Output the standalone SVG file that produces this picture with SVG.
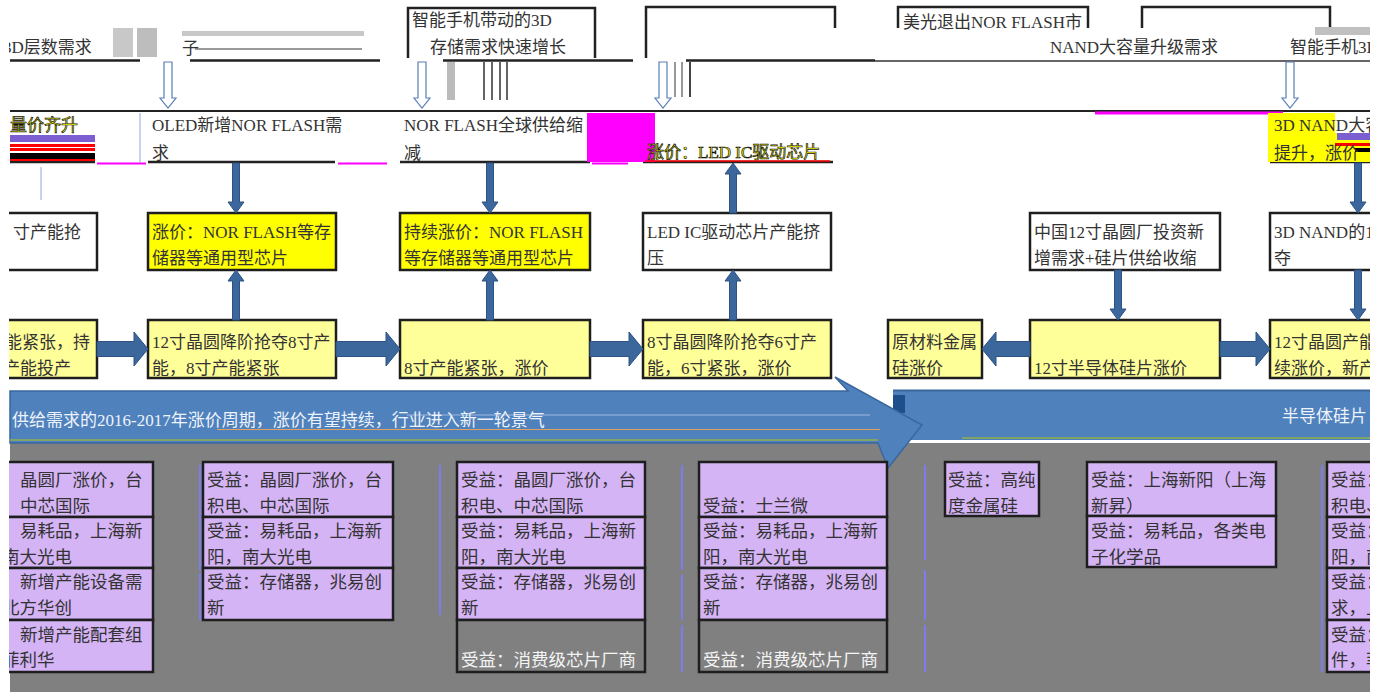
<svg xmlns="http://www.w3.org/2000/svg" width="1386" height="692" viewBox="0 0 1386 692">
<style>
text{font-family:"Liberation Serif","Noto Sans CJK SC",serif;font-size:17px;fill:#333}
.b{font-size:17.5px}
.bx{stroke:#1e1e1e;stroke-width:2.5}
.w{fill:#fff}.y{fill:#ffff00}.ly{fill:#ffff99}.pu{fill:#d5b4f6}.gr{fill:#808080}
.ar{fill:#3b679c;stroke:#2d5283;stroke-width:1}
.ha{fill:#fff;stroke:#5a7fb5;stroke-width:1.2}
.ln{stroke:#222;stroke-width:2.5;fill:none}
.bl{stroke:#7c7cf0;stroke-width:2;fill:none}
.wt{fill:#f4f4f4}
.yt{fill:#ffff00;stroke:#111;stroke-width:0.7}
.bt{fill:#eef3fb}
</style>
<rect width="1386" height="692" fill="#fff"/>

<g id="background">
<rect x="10" y="443" width="1360" height="249" fill="#808080"/>
<rect x="893" y="390" width="477" height="50" fill="#4f81bd"/>
<line x1="893" y1="390.5" x2="1370" y2="390.5" stroke="#3a679e" stroke-width="2"/>
<rect x="893" y="395" width="12" height="18" fill="#1f4e8c"/>
<polygon points="10,391 848,391 835,377 922,425 888,468 878,443 10,443" fill="#4f81bd" stroke="#3a679e" stroke-width="1.5"/>
<line x1="407" y1="415" x2="870" y2="415" stroke="#9fb8dd" stroke-width="1"/>
<line x1="217" y1="429.5" x2="880" y2="429.5" stroke="#e0a060" stroke-width="1"/>
<line x1="10" y1="440" x2="878" y2="440" stroke="#8fb04a" stroke-width="1.5"/>
<line x1="962" y1="438" x2="1370" y2="438" stroke="#8fb04a" stroke-width="1.5"/>
<text x="12" y="426" class="bt">供给需求的2016-2017年涨价周期，涨价有望持续，行业进入新一轮景气</text>
<text x="1282" y="422" class="bt">半导体硅片</text>
</g>

<g id="top1">
<rect x="113" y="28" width="20" height="29" fill="#c8c8c8"/>
<rect x="137" y="28" width="20" height="29" fill="#bdbdbd"/>
<rect x="182" y="31" width="182" height="5" fill="#c8c8c8"/>
<line x1="195" y1="49" x2="362" y2="49" stroke="#999" stroke-width="2"/>
<text x="3" y="53">3D层数需求</text>
<text x="182" y="54">子</text>
<path class="ln" d="M10,60.5H140M190,60.5H380"/>
</g>
<g id="top2">
<path class="ln" d="M408,58V8H595V58"/>
<text x="412" y="26">智能手机带动的3D</text>
<text x="430" y="53">存储需求快速增长</text>
<path class="ln" d="M443,60.5H633"/>
<rect x="447" y="62" width="8" height="38" fill="#bbb"/>
<path d="M484,62V100M492,62V100M500,62V100M507,62V100" stroke="#333" stroke-width="1.5"/>
</g>
<g id="top3">
<path class="ln" d="M646,58V7H835V28"/>
<path class="ln" d="M686,60.5H875"/>
<path d="M675,62V97M682,62V97" stroke="#777" stroke-width="1.5"/>
<path d="M690,62V97" stroke="#444" stroke-width="2"/>
</g>
<g id="top4">
<path class="ln" d="M898,28V7H1088V28"/>
<text x="903" y="28">美光退出NOR FLASH市</text>
</g>
<g id="top5">
<path class="ln" d="M1142,28V7H1330V28"/>
<text x="1050" y="53">NAND大容量升级需求</text>
<rect x="1315" y="27" width="55" height="8" fill="#c0c0c0"/>
<text x="1290" y="53">智能手机3D</text>
<line x1="875" y1="61" x2="1370" y2="61" stroke="#666" stroke-width="2"/>
</g>

<g id="row2">
<line x1="10" y1="111" x2="1370" y2="111" stroke="#222" stroke-width="2"/>
<line x1="1095" y1="113" x2="1283" y2="113" stroke="#ff00ff" stroke-width="3"/>
<path class="ln" d="M10,162H95M148,162H335M400,162H590M643,162H833M1270,162H1370"/>
<path d="M97,163.5H146M338,163.5H387M592,163.5H628" stroke="#ff00ff" stroke-width="2"/>
<line x1="140" y1="113" x2="140" y2="163" stroke="#8fa6e0" stroke-width="1"/>
<line x1="41" y1="167" x2="41" y2="200" stroke="#8fa6e0" stroke-width="1"/>
</g>
<g id="n2a">
<text x="10" y="131" class="yt">量价齐升</text>
<rect x="10" y="135" width="85" height="7" fill="#7b5fd1"/>
<rect x="10" y="144" width="85" height="3" fill="#ff0000"/>
<rect x="10" y="148" width="85" height="3" fill="#ff0000"/>
<rect x="10" y="153" width="85" height="6" fill="#000"/>
<rect x="10" y="159" width="85" height="2" fill="#ff0000"/>
</g>
<g id="n2b">
<text x="152" y="131">OLED新增NOR FLASH需</text>
<text x="152" y="159">求</text>
</g>
<g id="n2c">
<text x="404" y="131">NOR FLASH全球供给缩</text>
<text x="404" y="159">减</text>
<rect x="587" y="113" width="68" height="49" fill="#ff00ff"/>
</g>
<g id="n2d">
<text x="647" y="158" class="yt">涨价：LED IC驱动芯片</text>
<line x1="645" y1="161" x2="830" y2="161" stroke="#ff0000" stroke-width="1.5"/>
</g>
<g id="n2e">
<rect x="1268" y="113" width="102" height="49" fill="#ffff00"/>
<rect x="1335" y="113" width="35" height="20" fill="#fff"/>
<rect x="1337" y="133" width="33" height="7" fill="#7b5fd1"/>
<rect x="1335" y="143" width="35" height="3" fill="#ff0000"/>
<rect x="1355" y="148" width="15" height="4" fill="#000"/>
<text x="1274" y="131">3D NAND大容</text>
<text x="1274" y="159">提升，涨价</text>
</g>

<g id="n3a"><rect x="-5" y="213" width="102" height="57" class="bx w"/><text x="13" y="238">寸产能抢</text></g>
<g id="n3b"><rect x="148" y="213" width="188" height="57" class="bx y"/><text x="152" y="238">涨价：NOR FLASH等存</text><text x="152" y="264">储器等通用型芯片</text></g>
<g id="n3c"><rect x="400" y="213" width="190" height="57" class="bx y"/><text x="404" y="238">持续涨价：NOR FLASH</text><text x="404" y="264">等存储器等通用型芯片</text></g>
<g id="n3d"><rect x="643" y="213" width="188" height="57" class="bx w"/><text x="647" y="238">LED IC驱动芯片产能挤</text><text x="647" y="264">压</text></g>
<g id="n3e"><rect x="1030" y="213" width="190" height="57" class="bx w"/><text x="1034" y="238">中国12寸晶圆厂投资新</text><text x="1034" y="264">增需求+硅片供给收缩</text></g>
<g id="n3f"><rect x="1270" y="213" width="110" height="57" class="bx w"/><text x="1274" y="238">3D NAND的12</text><text x="1274" y="264">夺</text></g>

<g id="n4a"><rect x="-5" y="320" width="102" height="58" class="bx ly"/><text x="5" y="348">能紧张，持</text><text x="3" y="374">产能投产</text></g>
<g id="n4b"><rect x="148" y="320" width="188" height="58" class="bx ly"/><text x="152" y="348">12寸晶圆降阶抢夺8寸产</text><text x="152" y="374">能，8寸产能紧张</text></g>
<g id="n4c"><rect x="400" y="320" width="190" height="58" class="bx ly"/><text x="404" y="374">8寸产能紧张，涨价</text></g>
<g id="n4d"><rect x="643" y="320" width="188" height="58" class="bx ly"/><text x="647" y="348">8寸晶圆降阶抢夺6寸产</text><text x="647" y="374">能，6寸紧张，涨价</text></g>
<g id="n4e"><rect x="888" y="320" width="94" height="58" class="bx ly"/><text x="892" y="348">原材料金属</text><text x="892" y="374">硅涨价</text></g>
<g id="n4f"><rect x="1030" y="320" width="190" height="58" class="bx ly"/><text x="1034" y="374">12寸半导体硅片涨价</text></g>
<g id="n4g"><rect x="1270" y="320" width="110" height="58" class="bx ly"/><text x="1274" y="348">12寸晶圆产能</text><text x="1274" y="374">续涨价，新产</text></g>

<g id="connectors">
<path class="ha" d="M164,62V98H160L168,108L176,98H172V62Z"/>
<path class="ha" d="M418,62V98H414L422,108L430,98H426V62Z"/>
<path class="ha" d="M659,62V98H655L663,108L671,98H667V62Z"/>
<path class="ha" d="M1286,62V98H1282L1290,108L1298,98H1294V62Z"/>
<path class="ar" d="M97,341.5H134V332L148,349L134,366V356.5H97Z"/>
<path class="ar" d="M336,341.5H386V332L400,349L386,366V356.5H336Z"/>
<path class="ar" d="M590,341.5H629V332L643,349L629,366V356.5H590Z"/>
<path class="ar" d="M1220,341.5H1256V332L1270,349L1256,366V356.5H1220Z"/>
<path class="ar" d="M1030,341.5H996V332L982,349L996,366V356.5H1030Z"/>
<path class="ar" d="M232.5,163V202H228L236,213L244,202H239.5V163Z"/>
<path class="ar" d="M232.5,320V281H228L236,270L244,281H239.5V320Z"/>
<path class="ar" d="M486.5,163V202H482L490,213L498,202H493.5V163Z"/>
<path class="ar" d="M486.5,320V281H482L490,270L498,281H493.5V320Z"/>
<path class="ar" d="M729.5,213V174H725L733,163L741,174H736.5V213Z"/>
<path class="ar" d="M729.5,320V281H725L733,270L741,281H736.5V320Z"/>
<path class="ar" d="M1114.5,270V309H1110L1118,320L1126,309H1121.5V270Z"/>
<path class="ar" d="M1354.5,163V202H1350L1358,213L1366,202H1361.5V163Z"/>
<path class="ar" d="M1354.5,270V309H1350L1358,320L1366,309H1361.5V270Z"/>
<path class="bl" d="M200,465V570M200,573V620M440,465V615M682,465V570M682,575V620M682,625V672M925,465V560M925,570V620M925,625V672M1322,465V672M737,622V640"/>
</g>

<g id="c1">
<rect x="-5" y="462" width="158" height="55" class="bx pu"/>
<rect x="-5" y="517" width="158" height="51" class="bx pu"/>
<rect x="-5" y="568" width="158" height="52" class="bx pu"/>
<rect x="-5" y="620" width="158" height="52" class="bx pu"/>
<text class="b" x="20" y="486">晶圆厂涨价，台</text><text class="b" x="20" y="512">中芯国际</text>
<text class="b" x="20" y="537">易耗品，上海新</text><text class="b" x="2" y="563">南大光电</text>
<text class="b" x="20" y="588">新增产能设备需</text><text class="b" x="2" y="614">北方华创</text>
<text class="b" x="20" y="641">新增产能配套组</text><text class="b" x="2" y="666">菲利华</text>
</g>
<g id="c2">
<rect x="203" y="462" width="190" height="55" class="bx pu"/>
<rect x="203" y="517" width="190" height="51" class="bx pu"/>
<rect x="203" y="568" width="190" height="52" class="bx pu"/>
<text class="b" x="207" y="486">受益：晶圆厂涨价，台</text><text class="b" x="207" y="512">积电、中芯国际</text>
<text class="b" x="207" y="537">受益：易耗品，上海新</text><text class="b" x="207" y="563">阳，南大光电</text>
<text class="b" x="207" y="588">受益：存储器，兆易创</text><text class="b" x="207" y="614">新</text>
</g>
<g id="c3">
<rect x="457" y="462" width="188" height="55" class="bx pu"/>
<rect x="457" y="517" width="188" height="51" class="bx pu"/>
<rect x="457" y="568" width="188" height="52" class="bx pu"/>
<rect x="457" y="620" width="188" height="52" class="bx gr"/>
<text class="b" x="461" y="486">受益：晶圆厂涨价，台</text><text class="b" x="461" y="512">积电、中芯国际</text>
<text class="b" x="461" y="537">受益：易耗品，上海新</text><text class="b" x="461" y="563">阳，南大光电</text>
<text class="b" x="461" y="588">受益：存储器，兆易创</text><text class="b" x="461" y="614">新</text>
<text class="b wt" x="461" y="666">受益：消费级芯片厂商</text>
</g>
<g id="c4">
<rect x="699" y="462" width="188" height="55" class="bx pu"/>
<rect x="699" y="517" width="188" height="51" class="bx pu"/>
<rect x="699" y="568" width="188" height="52" class="bx pu"/>
<rect x="699" y="620" width="188" height="52" class="bx gr"/>
<text class="b" x="703" y="512">受益：士兰微</text>
<text class="b" x="703" y="537">受益：易耗品，上海新</text><text class="b" x="703" y="563">阳，南大光电</text>
<text class="b" x="703" y="588">受益：存储器，兆易创</text><text class="b" x="703" y="614">新</text>
<text class="b wt" x="703" y="666">受益：消费级芯片厂商</text>
</g>
<g id="c5">
<rect x="945" y="462" width="94" height="54" class="bx pu"/>
<text class="b" x="948" y="486">受益：高纯</text><text class="b" x="948" y="512">度金属硅</text>
</g>
<g id="c6">
<rect x="1087" y="462" width="189" height="54" class="bx pu"/>
<rect x="1087" y="516" width="189" height="51" class="bx pu"/>
<text class="b" x="1091" y="486">受益：上海新阳（上海</text><text class="b" x="1091" y="512">新昇）</text>
<text class="b" x="1091" y="537">受益：易耗品，各类电</text><text class="b" x="1091" y="563">子化学品</text>
</g>
<g id="c7">
<rect x="1327" y="462" width="60" height="55" class="bx pu"/>
<rect x="1327" y="517" width="60" height="51" class="bx pu"/>
<rect x="1327" y="568" width="60" height="52" class="bx pu"/>
<rect x="1327" y="620" width="60" height="52" class="bx pu"/>
<text class="b" x="1331" y="486">受益：</text><text class="b" x="1331" y="512">积电、</text>
<text class="b" x="1331" y="537">受益：</text><text class="b" x="1331" y="563">阳，南</text>
<text class="b" x="1331" y="588">受益：</text><text class="b" x="1331" y="614">求，上</text>
<text class="b" x="1331" y="641">受益：</text><text class="b" x="1331" y="666">件，菲</text>
</g>

<rect x="0" y="0" width="9" height="692" fill="#fff"/>
<rect x="1370" y="0" width="16" height="692" fill="#fff"/>
</svg>
